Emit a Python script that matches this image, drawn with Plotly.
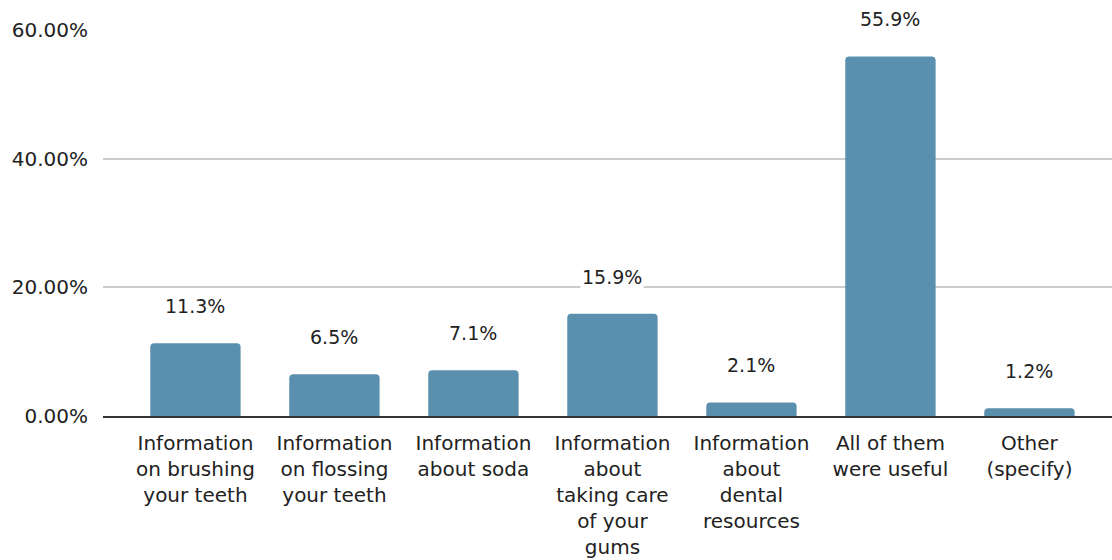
import plotly.graph_objects as go

# Survey responses: which information was most useful
categories = [
    "Information<br>on brushing<br>your teeth",
    "Information<br>on flossing<br>your teeth",
    "Information<br>about soda",
    "Information<br>about<br>taking care<br>of your<br>gums",
    "Information<br>about<br>dental<br>resources",
    "All of them<br>were useful",
    "Other<br>(specify)",
]
shares = [11.3, 6.5, 7.1, 15.9, 2.1, 55.9, 1.2]
y_ticks = [0, 20, 40, 60]

FONT = "DejaVu Sans"
BAR_COLOR = "#5a8fad"
TEXT_COLOR = "#222222"

x_pos = list(range(len(categories)))

fig = go.Figure(
    go.Bar(
        x=x_pos,
        y=shares,
        marker=dict(color=BAR_COLOR, line=dict(width=0)),
        hoverinfo="skip",
    )
)

# value labels above each bar
for xi, v in zip(x_pos, shares):
    fig.add_annotation(
        x=xi, y=v, text=f"{v:.1f}%", showarrow=False,
        yanchor="middle", yshift=37,
        font=dict(family=FONT, size=19, color=TEXT_COLOR),
        bgcolor="white", borderpad=1,
    )

fig.update_layout(
    width=1112, height=560,
    margin=dict(l=103, r=0, t=30, b=143.5),
    paper_bgcolor="white", plot_bgcolor="white",
    showlegend=False,
    bargap=0.35,
    barcornerradius=4,
    xaxis=dict(
        range=[-0.665, 6.594],
        tickmode="array", tickvals=x_pos, ticktext=categories,
        showgrid=False, zeroline=False,
        showline=True, linecolor="#333333", linewidth=1.5,
        ticks="", ticklabelstandoff=8,
        tickfont=dict(family=FONT, size=20, color=TEXT_COLOR),
    ),
    yaxis=dict(
        range=[0, 60],
        tickmode="array", tickvals=y_ticks,
        ticktext=[f"{t:.2f}%" for t in y_ticks],
        showgrid=True, gridcolor="#cccccc", gridwidth=1.5,
        zeroline=False, showline=False, ticks="",
        ticklabelstandoff=14,
        tickfont=dict(family=FONT, size=20, color=TEXT_COLOR),
    ),
)

fig.write_html("out.html")
